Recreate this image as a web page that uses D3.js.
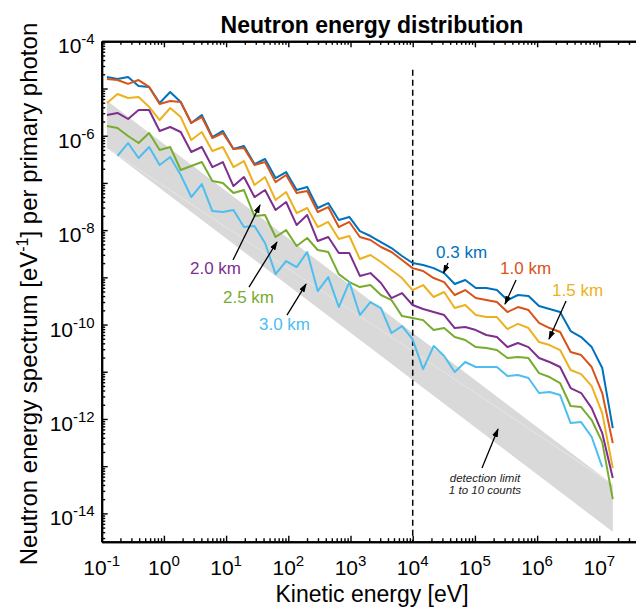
<!DOCTYPE html>
<html>
<head>
<meta charset="utf-8">
<script src="https://cdn.jsdelivr.net/npm/d3@7/dist/d3.min.js"></script>
<style>
body{margin:0;background:#fff;}
svg text{font-family:"Liberation Sans",Arial,Helvetica,sans-serif;}
</style>
</head>
<body>
<div id="chart"></div>
<script>
// bin centres [eV]
var energy = [0.1215,0.1795,0.2652,0.3917,0.5786,0.8546,1.262,1.864,2.754,4.068,6.008,8.875,
  13.11,19.36,28.60,42.25,62.41,92.18,136.2,201.1,297.1,438.8,648.2,957.4,1414,2089,3085,4557,
  6732,9943,14690,21690,32040,47330,69920,103300,152500,225400,332900,491700,726300,
  1.073e6,1.584e6,2.340e6,3.456e6,5.105e6,7.543e6,1.114e7,1.646e7];

var spec03 = [1.75e-5,1.59e-5,1.75e-5,1.13e-5,1.08e-5,4.93e-6,8.43e-6,5.18e-6,1.86e-6,2.75e-6,9.38e-7,1.26e-6,
  5.23e-7,6.05e-7,2.51e-7,3.21e-7,1.27e-7,1.70e-7,7.08e-8,8.19e-8,2.94e-8,3.75e-8,1.64e-8,1.90e-8,
  9.57e-9,7.50e-9,5.60e-9,4.18e-9,2.83e-9,2.01e-9,1.82e-9,1.57e-9,1.23e-9,7.21e-10,8.77e-10,5.93e-10,
  5.93e-10,5.38e-10,3.30e-10,4.22e-10,4.02e-10,2.47e-10,2.13e-10,1.84e-10,7.28e-11,5.43e-11,3.33e-11,1.20e-11,6.41e-13];
var spec10 = [1.59e-5,1.51e-5,1.25e-5,1.51e-5,1.08e-5,4.70e-6,5.43e-6,5.18e-6,1.86e-6,2.49e-6,8.93e-7,1.14e-6,
  5.23e-7,5.48e-7,2.39e-7,2.77e-7,1.04e-7,1.47e-7,6.11e-8,6.73e-8,2.42e-8,3.08e-8,1.16e-8,1.49e-8,
  7.14e-9,6.17e-9,4.39e-9,3.44e-9,2.33e-9,1.57e-9,1.36e-9,9.66e-10,7.94e-10,4.22e-10,5.38e-10,3.64e-10,
  3.30e-10,3.00e-10,1.84e-10,2.35e-10,2.03e-10,1.08e-10,8.43e-11,6.94e-11,2.61e-11,2.26e-11,1.26e-11,3.54e-12,3.08e-13];
var spec15 = [4.93e-6,7.64e-6,6.29e-6,6.61e-6,4.06e-6,2.15e-6,3.86e-6,2.49e-6,8.11e-7,1.20e-6,4.74e-7,5.77e-7,
  2.17e-7,2.91e-7,9.03e-8,1.33e-7,4.34e-8,6.41e-8,2.30e-8,2.94e-8,1.16e-8,1.49e-8,6.48e-9,7.50e-9,
  2.44e-9,2.97e-9,2.11e-9,1.43e-9,9.66e-10,5.38e-10,6.87e-10,3.83e-10,4.89e-10,2.24e-10,2.59e-10,1.59e-10,
  1.44e-10,1.44e-10,8.03e-11,1.03e-10,8.43e-11,4.26e-11,3.68e-11,2.88e-11,1.09e-11,8.93e-12,4.98e-12,1.33e-12,9.12e-14];
var spec20 = [2.75e-6,3.03e-6,2.26e-6,3.50e-6,3.50e-6,1.26e-6,1.53e-6,1.20e-6,4.52e-7,5.77e-7,2.17e-7,2.77e-7,
  8.59e-8,1.33e-7,5.02e-8,7.08e-8,2.67e-8,3.94e-8,1.28e-8,2.09e-8,5.87e-9,7.14e-9,3.27e-9,3.27e-9,
  1.07e-9,1.23e-9,7.57e-10,3.64e-10,4.65e-10,2.59e-10,2.13e-10,1.84e-10,1.59e-10,8.43e-11,8.85e-11,7.64e-11,
  6.00e-11,5.43e-11,3.33e-11,4.06e-11,3.33e-11,1.95e-11,1.61e-11,1.26e-11,4.52e-12,3.54e-12,1.70e-12,5.02e-13,5.60e-14];
var spec25 = [1.61e-6,1.46e-6,9.86e-7,7.00e-7,1.14e-6,4.98e-7,5.77e-7,1.88e-7,2.28e-7,2.77e-7,1.10e-7,9.95e-8,
  6.11e-8,7.08e-8,1.99e-8,2.09e-8,7.14e-9,1.00e-8,4.60e-9,6.81e-9,3.79e-9,3.44e-9,1.17e-9,7.94e-10,
  6.23e-10,6.87e-10,4.22e-10,3.30e-10,1.51e-10,1.37e-10,1.24e-10,7.64e-11,8.43e-11,5.43e-11,4.70e-11,3.33e-11,
  3.18e-11,2.88e-11,1.95e-11,2.05e-11,1.95e-11,9.38e-12,7.73e-12,5.77e-12,1.88e-12,1.79e-12,9.48e-13,3.24e-13,2.01e-14];
var spec30 = [null,3.72e-7,7.00e-7,3.37e-7,5.77e-7,2.39e-7,3.54e-7,1.47e-7,5.02e-8,9.48e-8,2.54e-8,2.42e-8,
  2.67e-8,1.16e-8,1.22e-8,5.33e-9,1.17e-9,2.21e-9,1.65e-9,3.44e-9,5.13e-10,1.01e-9,2.35e-10,7.94e-10,
  1.59e-10,3.00e-10,2.24e-10,6.61e-11,9.29e-11,4.93e-11,1.14e-11,3.50e-11,2.15e-11,9.86e-12,1.61e-11,1.26e-11,
  1.26e-11,1.26e-11,8.11e-12,8.51e-12,7.36e-12,3.54e-12,3.72e-12,3.21e-12,8.18e-13,8.59e-13,4.14e-13,9.57e-14,null];

var seriesList = [spec03, spec10, spec15, spec20, spec25, spec30];
var seriesNames = ["0.3 km","1.0 km","1.5 km","2.0 km","2.5 km","3.0 km"];
var seriesColors = ["#0072BD","#D95319","#EDB120","#7E2F8E","#77AC30","#4DBEEE"];

// detection limit band (1 and 10 counts)
var limitEnergy = [0.1215, 1.646e7];
var limitOne = [5.5e-7, 4.07e-15];
var limitTen = [5.5e-6, 4.07e-14];

var cutEnergy = 1e4;
var cutTop = 2.5e-5;

var xTickExp = [-1,0,1,2,3,4,5,6,7];
var yTickExp = [-4,-6,-8,-10,-12,-14];

// label position [log10 E, log10 value], arrow tail and head in the same units
var annoText = [[4.375,-8.591],[5.404,-8.930],[6.240,-9.396],[0.420,-8.930],[0.950,-9.544],[1.529,-10.117]];
var annoTail = [[4.567,-8.697],[5.661,-9.057],[6.465,-9.502],[1.111,-8.633],[1.368,-9.206],[1.979,-9.799]];
var annoHead = [[4.495,-8.909],[5.484,-9.566],[6.191,-10.307],[1.545,-7.468],[1.818,-8.252],[2.285,-9.142]];
var limitText = ["detection limit","1 to 10 counts"];
var limitTextPos = [[5.162,-13.337],[5.162,-13.591]];
var limitArrow = [[5.114,-13.040],[5.371,-12.214]];

(function(){
  var margin = {top: 41.3, left: 101.7};
  var width = 541.1, height = 500.4;

  var svg0 = d3.select("#chart").append("svg")
    .attr("width", 636).attr("height", 607);
  var defs = svg0.append("defs");
  defs.append("marker").attr("id","ahead")
    .attr("markerUnits","userSpaceOnUse")
    .attr("markerWidth",9).attr("markerHeight",6)
    .attr("refX",8).attr("refY",3).attr("orient","auto")
    .append("path").attr("d","M0,0 L9,3 L0,6 Z").attr("fill","#000");

  var svg = svg0.append("g").attr("transform","translate("+margin.left+","+margin.top+")");

  var x = d3.scaleLog().domain([0.1, 5e7]).range([0, width]);
  var y = d3.scaleLog().domain([Math.pow(10,-14.6), 1e-4]).range([height, 0]);
  function px(p){ return x(Math.pow(10,p[0])); }
  function py(p){ return y(Math.pow(10,p[1])); }

  // band
  var band = d3.area()
    .x(function(d,i){ return x(limitEnergy[i]); })
    .y0(function(d,i){ return y(limitOne[i]); })
    .y1(function(d,i){ return y(limitTen[i]); });
  svg.append("path").datum(limitEnergy).attr("d", band).attr("fill","#d9d9d9");
  svg.append("line")
    .attr("x1", x(limitEnergy[0])).attr("y1", y(limitOne[0]))
    .attr("x2", x(limitEnergy[1])).attr("y2", y(limitTen[1]))
    .attr("stroke","#e9e9e9").attr("stroke-width",0.8);

  // 10 keV line
  svg.append("line")
    .attr("x1", x(cutEnergy)).attr("x2", x(cutEnergy))
    .attr("y1", y(cutTop)).attr("y2", height)
    .attr("stroke","#000").attr("stroke-width",1.5).attr("stroke-dasharray","6,4");

  var line = d3.line()
    .defined(function(d){ return d != null; })
    .x(function(d,i){ return x(energy[i]); })
    .y(function(d){ return y(d); });

  svg.selectAll(".spec").data(seriesList).enter().append("path")
    .attr("class","spec")
    .attr("d", line)
    .attr("fill","none")
    .attr("stroke", function(d,i){ return seriesColors[i]; })
    .attr("stroke-width",2)
    .attr("stroke-linejoin","round");

  // annotations
  svg.selectAll(".annoArrow").data(annoTail).enter().append("line")
    .attr("class","annoArrow")
    .attr("x1", function(d){ return px(d); }).attr("y1", function(d){ return py(d); })
    .attr("x2", function(d,i){ return px(annoHead[i]); }).attr("y2", function(d,i){ return py(annoHead[i]); })
    .attr("stroke","#000").attr("stroke-width",1.3).attr("marker-end","url(#ahead)");
  svg.selectAll(".annoTxt").data(annoText).enter().append("text")
    .attr("class","annoTxt")
    .attr("x", function(d){ return px(d); }).attr("y", function(d){ return py(d); })
    .attr("font-size",17)
    .attr("fill", function(d,i){ return seriesColors[i]; })
    .text(function(d,i){ return seriesNames[i]; });

  svg.append("line")
    .attr("x1", px(limitArrow[0])).attr("y1", py(limitArrow[0]))
    .attr("x2", px(limitArrow[1])).attr("y2", py(limitArrow[1]))
    .attr("stroke","#000").attr("stroke-width",1.3).attr("marker-end","url(#ahead)");
  svg.selectAll(".limTxt").data(limitTextPos).enter().append("text")
    .attr("class","limTxt")
    .attr("x", function(d){ return px(d); }).attr("y", function(d){ return py(d); })
    .attr("text-anchor","middle").attr("font-size",11.5).attr("font-style","italic")
    .attr("fill","#222")
    .text(function(d,i){ return limitText[i]; });

  // axes
  var xMajor = xTickExp.map(function(e){ return Math.pow(10,e); });
  var xMinor = x.ticks().filter(function(v){ return Math.abs(Math.log10(v) - Math.round(Math.log10(v))) > 1e-6; });
  var yMajor = [], yMinor = [];
  for(var e = -15; e <= -4; e++){
    var b = Math.pow(10,e);
    if(b >= y.domain()[0]) yMajor.push(b);
    for(var m = 2; m <= 9; m++){
      if(m*b >= y.domain()[0] && m*b <= 1e-4) yMinor.push(m*b);
    }
  }

  function styleAxis(g){
    g.selectAll(".domain").attr("stroke","#000").attr("stroke-width",2);
    g.selectAll(".tick line").attr("stroke","#000").attr("stroke-width",1.4);
    g.selectAll(".tick text").remove();
  }

  svg.append("g").attr("transform","translate(0,"+height+")")
    .call(d3.axisBottom(x).tickValues(xMinor).tickSize(-3.5).tickSizeOuter(0).tickFormat("")).call(styleAxis);
  svg.append("g").attr("transform","translate(0,"+height+")")
    .call(d3.axisBottom(x).tickValues(xMajor).tickSize(-6).tickSizeOuter(0).tickFormat("")).call(styleAxis);
  svg.append("g")
    .call(d3.axisTop(x).tickValues(xMinor).tickSize(-3.5).tickSizeOuter(0).tickFormat("")).call(styleAxis);
  svg.append("g")
    .call(d3.axisTop(x).tickValues(xMajor).tickSize(-6).tickSizeOuter(0).tickFormat("")).call(styleAxis);
  svg.append("g")
    .call(d3.axisLeft(y).tickValues(yMinor).tickSize(-3.5).tickSizeOuter(0).tickFormat("")).call(styleAxis);
  svg.append("g")
    .call(d3.axisLeft(y).tickValues(yMajor).tickSize(-6).tickSizeOuter(0).tickFormat("")).call(styleAxis);

  // tick labels
  svg.selectAll(".xlab").data(xTickExp).enter().append("text")
    .attr("class","xlab")
    .attr("x", function(d){ return x(Math.pow(10,d)); })
    .attr("y", height + 33)
    .attr("text-anchor","middle").attr("font-size",21)
    .each(function(d){
      var t = d3.select(this);
      t.append("tspan").text("10");
      t.append("tspan").attr("dy",-9).attr("font-size",15).text(d);
    });
  svg.selectAll(".ylab").data(yTickExp).enter().append("text")
    .attr("class","ylab")
    .attr("x", -7)
    .attr("y", function(d){ return y(Math.pow(10,d)) + 12; })
    .attr("text-anchor","end").attr("font-size",21)
    .each(function(d){
      var t = d3.select(this);
      t.append("tspan").text("10");
      t.append("tspan").attr("dy",-9).attr("font-size",15).text(d);
    });

  // titles
  svg0.append("text").attr("x",372).attr("y",32.5).attr("text-anchor","middle")
    .attr("font-size",23).attr("font-weight","bold").text("Neutron energy distribution");
  svg0.append("text").attr("x",372).attr("y",602).attr("text-anchor","middle")
    .attr("font-size",23).text("Kinetic energy [eV]");
  var yl = svg0.append("text").attr("transform","translate(37,294) rotate(-90)")
    .attr("text-anchor","middle").attr("font-size",24);
  yl.append("tspan").text("Neutron energy spectrum [eV");
  yl.append("tspan").attr("dy",-9).attr("font-size",16).text("-1");
  yl.append("tspan").attr("dy",9).text("] per primary photon");
})();
</script>
</body>
</html>
